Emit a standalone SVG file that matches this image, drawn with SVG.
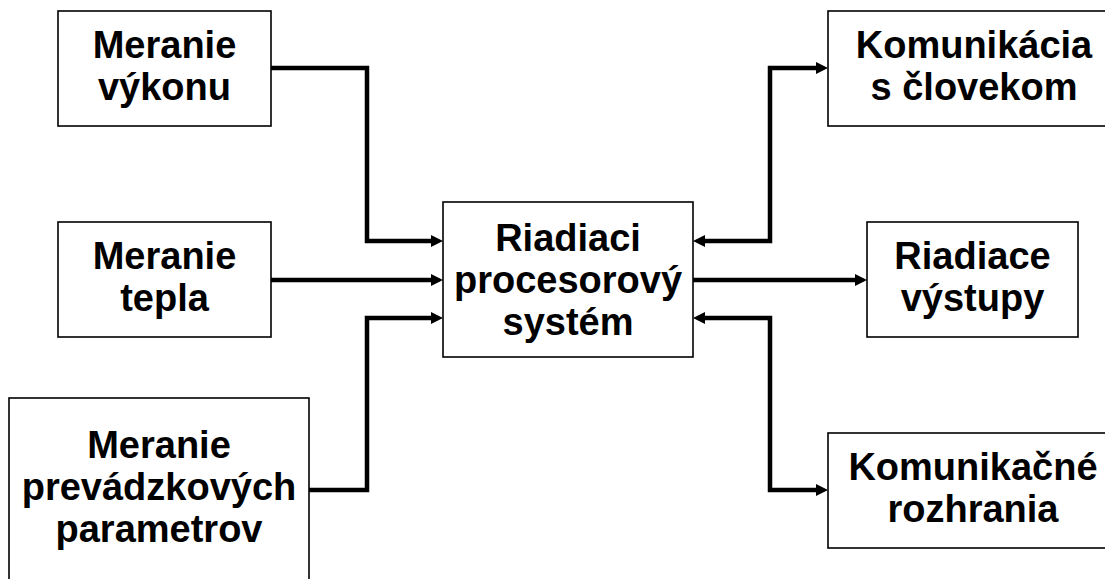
<svg xmlns="http://www.w3.org/2000/svg" width="1105" height="579" viewBox="0 0 1105 579">
<style>
.box{fill:#fff;stroke:#000;stroke-width:1.6}
.t{font-family:"Liberation Sans",Arial,sans-serif;font-weight:bold;font-size:38px;fill:#000;text-anchor:middle}
.c{fill:none;stroke:#000;stroke-width:4.5;stroke-linejoin:miter}
</style>
<defs>
<marker id="ah" viewBox="0 0 12 12" refX="2" refY="6" markerWidth="12" markerHeight="12" markerUnits="userSpaceOnUse" orient="auto-start-reverse">
<path d="M0,0 L12,6 L0,12 Z" fill="#000"/>
</marker>
</defs>
<rect width="1105" height="579" fill="#fff"/>
<g id="connectors">
<path class="c" d="M271,68 H367 V241 H433" marker-end="url(#ah)"/>
<path class="c" d="M271,280 H433" marker-end="url(#ah)"/>
<path class="c" d="M309,490 H367 V318 H433" marker-end="url(#ah)"/>
<path class="c" d="M703,241 H770 V68 H818" marker-start="url(#ah)" marker-end="url(#ah)"/>
<path class="c" d="M693,280 H857" marker-end="url(#ah)"/>
<path class="c" d="M703,318 H770 V490 H818" marker-start="url(#ah)" marker-end="url(#ah)"/>
</g>
<g id="meranie-vykonu">
<rect class="box" x="58" y="11" width="213" height="115"/>
<text class="t" x="164.5" y="58">Meranie</text>
<text class="t" x="164.5" y="100">výkonu</text>
</g>
<g id="meranie-tepla">
<rect class="box" x="58" y="222" width="213" height="115"/>
<text class="t" x="164.5" y="269">Meranie</text>
<text class="t" x="164.5" y="311">tepla</text>
</g>
<g id="meranie-parametrov">
<rect class="box" x="9" y="398" width="300" height="200"/>
<text class="t" x="159" y="458">Meranie</text>
<text class="t" x="159" y="500">prevádzkových</text>
<text class="t" x="159" y="542">parametrov</text>
</g>
<g id="riadiaci-system">
<rect class="box" x="443" y="202" width="250" height="155"/>
<text class="t" x="568" y="251">Riadiaci</text>
<text class="t" x="568" y="293">procesorový</text>
<text class="t" x="568" y="335">systém</text>
</g>
<g id="komunikacia-s-clovekom">
<rect class="box" x="828" y="11" width="292" height="115"/>
<text class="t" x="974" y="58">Komunikácia</text>
<text class="t" x="974" y="100">s človekom</text>
</g>
<g id="riadiace-vystupy">
<rect class="box" x="867" y="222" width="211" height="115"/>
<text class="t" x="972.5" y="269">Riadiace</text>
<text class="t" x="972.5" y="311">výstupy</text>
</g>
<g id="komunikacne-rozhrania">
<rect class="box" x="828" y="433" width="292" height="115"/>
<text class="t" x="973" y="480">Komunikačné</text>
<text class="t" x="973" y="522">rozhrania</text>
</g>
</svg>
